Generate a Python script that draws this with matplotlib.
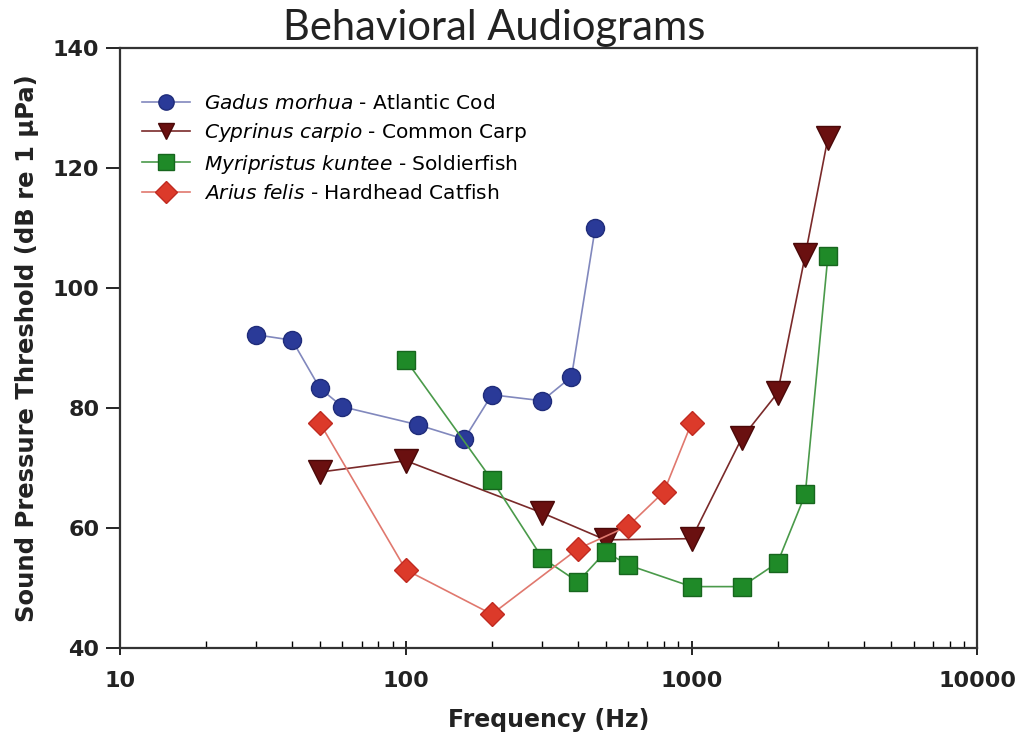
import matplotlib
matplotlib.use('Agg')
import matplotlib.pyplot as plt
from matplotlib.ticker import LogLocator, NullFormatter, FixedLocator

plt.rcParams['font.family'] = ['DejaVu Sans']
plt.rcParams['mathtext.fontset'] = 'dejavusans'

# thresholds in dB re 1 uPa
cod_f = [30, 40, 50, 60, 110, 160, 200, 300, 380, 460]
cod_db = [92.2, 91.3, 83.3, 80.2, 77.2, 74.8, 82.2, 81.2, 85.2, 110.0]

carp_f = [50, 100, 300, 500, 1000, 1500, 2000, 2500, 3000]
carp_db = [69.3, 71.2, 62.5, 58.0, 58.2, 75.0, 82.5, 105.5, 125.0]

soldier_f = [100, 200, 300, 400, 500, 600, 1000, 1500, 2000, 2500, 3000]
soldier_db = [88.0, 68.0, 55.0, 51.0, 56.0, 53.8, 50.2, 50.2, 54.2, 65.6, 105.3]

catfish_f = [50, 100, 200, 400, 600, 800, 1000]
catfish_db = [77.5, 53.0, 45.6, 56.5, 60.3, 66.0, 77.5]

labels = [r'$\it{Gadus\ morhua}$ - Atlantic Cod',
          r'$\it{Cyprinus\ carpio}$ - Common Carp',
          r'$\it{Myripristus\ kuntee}$ - Soldierfish',
          r'$\it{Arius\ felis}$ - Hardhead Catfish']

fig = plt.figure(figsize=(10.18, 7.42), dpi=100)
ax = fig.add_axes([0.118, 0.127, 0.842, 0.808])

ax.plot(cod_f, cod_db, '-o', color='#8188bd', lw=1.2, ms=13,
        mfc='#2a3a98', mec='#1f2c7a', mew=1, label=labels[0])
ax.plot(carp_f, carp_db, '-v', color='#7a2a2a', lw=1.2, ms=17,
        mfc='#6a1010', mec='#4a0808', mew=1, label=labels[1])
ax.plot(soldier_f, soldier_db, '-s', color='#4a9a4a', lw=1.2, ms=13,
        mfc='#1f8a28', mec='#17661e', mew=1, label=labels[2])
ax.plot(catfish_f, catfish_db, '-D', color='#e0786e', lw=1.2, ms=12,
        mfc='#dc3a2a', mec='#c02a20', mew=1, label=labels[3])

ax.set_xscale('log')
ax.set_xlim(10, 10000)
ax.set_ylim(40, 140)
ax.xaxis.set_major_locator(FixedLocator([10, 100, 1000, 10000]))
ax.set_xticklabels(['10', '100', '1000', '10000'])
ax.xaxis.set_minor_locator(LogLocator(base=10, subs=range(2, 10)))
ax.xaxis.set_minor_formatter(NullFormatter())
ax.set_yticks([40, 60, 80, 100, 120, 140])

ax.tick_params(axis='x', which='major', direction='inout', length=10, width=1.2,
               labelsize=16, pad=12)
ax.tick_params(axis='x', which='minor', direction='in', length=5, width=1)
ax.tick_params(axis='y', which='major', direction='out', length=10, width=1.2,
               labelsize=16, pad=5)
for lab in ax.get_xticklabels() + ax.get_yticklabels():
    lab.set_fontweight('bold')
    lab.set_color('#222222')

for sp in ax.spines.values():
    sp.set_linewidth(1.6)
    sp.set_color('#333333')

ax.set_xlabel('Frequency (Hz)', fontsize=17, fontweight='bold', color='#222222', labelpad=12)
ax.set_ylabel('Sound Pressure Threshold (dB re 1 \u00b5Pa)', fontsize=17.5,
              fontweight='bold', color='#222222', labelpad=10)

leg = ax.legend(loc='upper left', bbox_to_anchor=(-0.005, 0.968), frameon=False,
                fontsize=14.5, handlelength=2.4, handletextpad=0.7,
                labelspacing=0.42, borderaxespad=0.9)
for h in leg.legend_handles:
    h.set_markersize(11)

fig.text(0.485, 0.962, 'Behavioral Audiograms', ha='center', va='center',
         fontsize=30, family='Lato', color='#222222')

fig.savefig('out.png', dpi=100)
